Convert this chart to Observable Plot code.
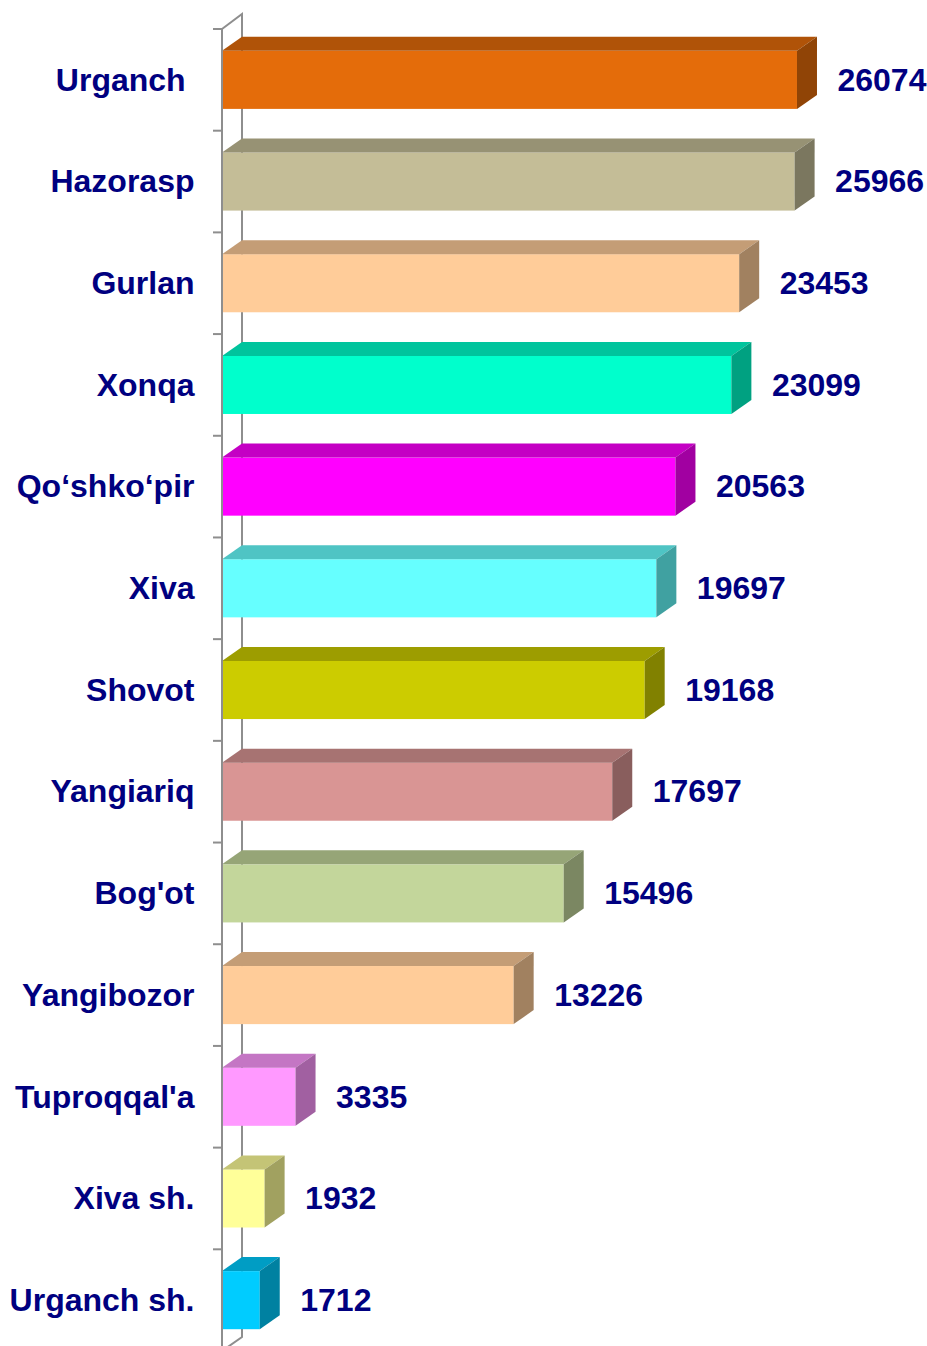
<!DOCTYPE html>
<html><head><meta charset="utf-8">
<script src="https://cdn.jsdelivr.net/npm/d3@7"></script>
<script src="https://cdn.jsdelivr.net/npm/@observablehq/plot@0.6"></script>
<style>
html,body{margin:0;padding:0;background:#fff;overflow:hidden}
</style></head><body><div id="chart"></div>
<script>
// Data
const districts = ["Urganch\u00a0","Hazorasp","Gurlan","Xonqa","Qo\u2018shko\u2018pir","Xiva","Shovot","Yangiariq","Bog'ot","Yangibozor","Tuproqqal'a","Xiva sh.","Urganch sh."];
const values = [26074,25966,23453,23099,20563,19697,19168,17697,15496,13226,3335,1932,1712];
const colors = ["#E46C0A","#C4BD97","#FFCC99","#00FFCC","#FF00FF","#66FFFF","#CCCC00","#D99594","#C3D69B","#FFCC99","#FF99FF","#FFFF99","#00CCFF"];

const data = districts.map((name, i) => ({name, value: values[i], color: colors[i]}));

// 3D look
const DX = 20, DY = -14, INSET = 21.8;
const AXIS = "#8e8e8e";
const shade = (c, k) => { const r = d3.rgb(c); return d3.rgb(r.r * k, r.g * k, r.b * k).formatHex(); };

function barFaces(index, scales, vals, dims, ctx, next) {
  const g = next(index, scales, vals, dims, ctx);
  const bw = scales.y.bandwidth();
  const sel = d3.select(g);
  for (const i of index) {
    const x1 = vals.x1[i], x2 = vals.x2[i];
    const yt = vals.y[i] + INSET, yb = vals.y[i] + bw - INSET;
    const c = vals.fill ? vals.fill[i] : "#999";
    sel.append("path")
      .attr("d", `M${x1},${yt}L${x1 + DX},${yt + DY}L${x2 + DX},${yt + DY}L${x2},${yt}Z`)
      .attr("fill", shade(c, 0.77));
    sel.append("path")
      .attr("d", `M${x2},${yt}L${x2 + DX},${yt + DY}L${x2 + DX},${yb + DY}L${x2},${yb}Z`)
      .attr("fill", shade(c, 0.63));
  }
  return g;
}

function wallBack(index, scales) {
  const x0 = scales.x(0);
  const [top, bottom] = scales.y.range();
  const g = d3.create("svg:g");
  g.append("path")
    .attr("d", `M${x0},${top}L${x0 + DX},${top + DY - 1}L${x0 + DX},${bottom + DY}L${x0},${bottom}`)
    .attr("fill", "none").attr("stroke", AXIS).attr("stroke-width", 2);
  return g.node();
}

function wallFront(index, scales) {
  const x0 = scales.x(0);
  const [top, bottom] = scales.y.range();
  const g = d3.create("svg:g").attr("stroke", AXIS).attr("stroke-width", 2).attr("fill", "none");
  g.append("path").attr("d", `M${x0},${top}L${x0},${bottom}`);
  for (const d of scales.y.domain()) {
    const y = scales.y(d);
    g.append("path").attr("d", `M${x0 - 9},${y}H${x0}`);
  }
  return g.node();
}

const font = "Arial, 'Liberation Sans', Helvetica, sans-serif";

const plot = Plot.plot({
  width: 927,
  height: 1346,
  marginLeft: 222, marginRight: 0, marginTop: 29, marginBottom: 0,
  x: {domain: [0, 31970], range: [222, 927], axis: null},
  y: {domain: districts, range: [29, 1351], padding: 0, round: false, axis: null},
  color: {type: "identity"},
  style: {fontFamily: font, background: "white"},
  marks: [
    Plot.ruleX([0], {render: wallBack}),
    Plot.barX(data, {x1: 0, x2: "value", y: "name", fill: "color", insetTop: INSET, insetBottom: INSET, render: barFaces}),
    Plot.ruleX([0], {render: wallFront}),
    Plot.text(data, {x: 0, y: "name", text: "name", textAnchor: "end", dx: -28, fill: "#000080", fontSize: 32, fontWeight: "bold"}),
    Plot.text(data, {x: "value", y: "name", text: d => String(d.value), textAnchor: "start", dx: 40, fill: "#000080", fontSize: 32, fontWeight: "bold"})
  ]
});
document.getElementById("chart").appendChild(plot);
</script>
</body></html>
